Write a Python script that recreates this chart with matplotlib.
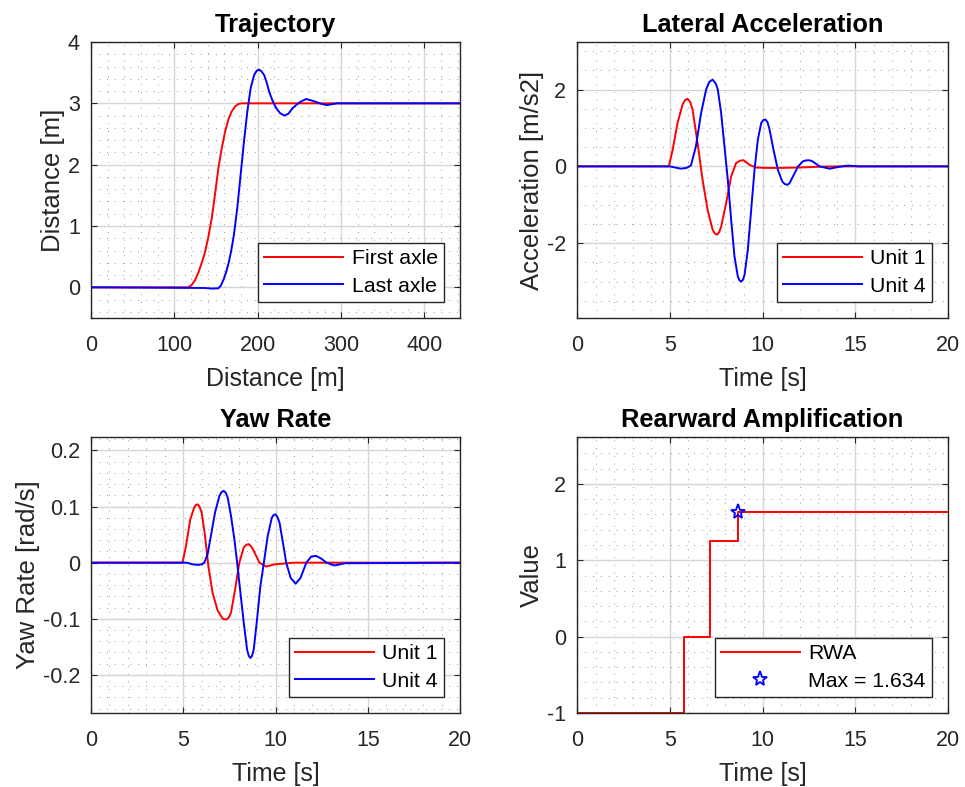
import numpy as np
import matplotlib.pyplot as plt
from matplotlib.ticker import AutoMinorLocator

plt.rcParams['font.family'] = ['Liberation Sans', 'DejaVu Sans']
plt.rcParams['axes.unicode_minus'] = False

# trajectory: lateral offset vs travelled distance
dist_first = [0, 117, 121, 125, 129, 133, 137, 141, 145, 149, 153, 157, 161, 165, 169, 173, 177, 181, 443]
traj_first = [0, 0, 0.04, 0.12, 0.245, 0.40, 0.58, 0.83, 1.13, 1.53, 1.95, 2.27, 2.54, 2.74, 2.87, 2.95, 2.99, 3.0, 3.0]
dist_last = [0, 135, 145, 153, 156, 159.4, 162.5, 165.5, 168.5, 171.5, 175.5, 179.6, 183.6, 187.6, 191.7,
             195.8, 198.8, 201.8, 204.8, 207.9, 210.9, 213.9, 218, 222, 227, 232, 237, 242, 247, 252,
             258.5, 266.5, 274.5, 283, 295, 443]
traj_last = [0, -0.01, -0.02, -0.016, 0.03, 0.136, 0.26, 0.41, 0.61, 0.85, 1.28, 1.83, 2.37, 2.86, 3.25,
             3.46, 3.53, 3.55, 3.52, 3.46, 3.34, 3.19, 3.04, 2.93, 2.84, 2.80, 2.83, 2.92, 2.98, 3.03,
             3.07, 3.04, 3.0, 2.97, 3.0, 3.0]

# lateral acceleration [m/s2]
t_acc1 = [0, 4.95, 5.16, 5.42, 5.69, 5.83, 5.96, 6.1, 6.23, 6.50, 6.77, 7.04, 7.31, 7.43, 7.55, 7.66,
          7.77, 8.04, 8.31, 8.58, 8.80, 8.99, 9.30, 9.66, 10.2, 11, 12, 13, 14, 20]
acc1 = [0, 0, 0.44, 1.13, 1.61, 1.73, 1.76, 1.68, 1.48, 0.61, -0.35, -1.13, -1.65, -1.75, -1.78, -1.72,
        -1.57, -0.96, -0.26, 0.09, 0.15, 0.16, 0.04, -0.03, -0.04, -0.04, -0.03, -0.01, 0, 0]
t_acc4 = [0, 5.0, 5.3, 5.6, 5.9, 6.14, 6.41, 6.69, 6.96, 7.13, 7.31, 7.49, 7.59, 7.77, 7.95, 8.13, 8.31,
          8.49, 8.67, 8.76, 8.85, 8.94, 9.03, 9.21, 9.39, 9.57, 9.75, 9.93, 10.05, 10.16, 10.27, 10.38,
          10.59, 10.83, 11.06, 11.2, 11.33, 11.46, 11.6, 11.92, 12.18, 12.34, 12.5, 12.66, 12.81, 13.08,
          13.62, 14.16, 14.6, 15.2, 20]
acc4 = [0, 0, -0.03, -0.06, -0.04, 0.02, 0.52, 1.39, 2.0, 2.2, 2.26, 2.15, 2.0, 1.39, 0.52, -0.35, -1.39,
        -2.35, -2.87, -2.97, -3.0, -2.96, -2.83, -2.17, -1.13, -0.09, 0.70, 1.13, 1.21, 1.22, 1.15, 0.96,
        0.44, -0.09, -0.39, -0.46, -0.48, -0.44, -0.30, 0, 0.13, 0.155, 0.16, 0.14, 0.09, 0,
        -0.06, -0.01, 0.02, 0, 0]

# yaw rate [rad/s]
t_yaw1 = [0, 4.96, 5.15, 5.38, 5.60, 5.69, 5.78, 5.88, 6.0, 6.18, 6.36, 6.59, 6.87, 7.14, 7.26, 7.37,
          7.48, 7.59, 7.81, 8.04, 8.28, 8.42, 8.55, 8.68, 8.82, 9.13, 9.49, 9.95, 11, 20]
yaw1 = [0, 0, 0.030, 0.077, 0.099, 0.103, 0.104, 0.100, 0.089, 0.048, -0.006, -0.054, -0.086, -0.100,
        -0.101, -0.101, -0.097, -0.089, -0.048, 0, 0.027, 0.032, 0.033, 0.029, 0.021, 0, -0.007,
        -0.003, 0, 0]
t_yaw4 = [0, 5.2, 5.5, 5.8, 6.0, 6.14, 6.32, 6.5, 6.72, 6.96, 7.08, 7.19, 7.30, 7.41, 7.59, 7.77, 7.92,
          8.10, 8.28, 8.46, 8.55, 8.64, 8.73, 8.82, 9.0, 9.18, 9.37, 9.58, 9.80, 9.90, 10.0, 10.11, 10.22,
          10.40, 10.58, 10.82, 11.09, 11.36, 11.67, 11.94, 12.21, 12.49, 12.76, 13.2, 13.77, 20]
yaw4 = [0, 0, -0.003, -0.004, -0.003, 0, 0.015, 0.048, 0.089, 0.119, 0.126, 0.128, 0.125, 0.116, 0.083,
        0.042, 0, -0.054, -0.107, -0.155, -0.166, -0.170, -0.166, -0.155, -0.101, -0.042, 0, 0.048,
        0.080, 0.085, 0.086, 0.081, 0.071, 0.036, 0, -0.027, -0.0375, -0.027, 0, 0.011, 0.012, 0.007,
        0, -0.005, -0.001, 0]

# rearward amplification (running value)
t_rwa = [0, 5.78, 7.19, 8.69, 20]
rwa = [-1, 0, 1.25, 1.634, 1.634]
rwa_max = max(rwa)
t_max = t_rwa[rwa.index(rwa_max)]

fig = plt.figure(figsize=(9.65, 7.87), dpi=100)
W, H = 965, 787
boxes = [(91, 42, 460, 318), (577, 42, 948, 318), (91, 437, 460, 713), (577, 437, 948, 713)]
axs = [fig.add_axes([l / W, 1 - b / H, (r - l) / W, (b - t) / H]) for l, t, r, b in boxes]

dark = '#262626'


def style(ax, title, xlabel, ylabel):
    ax.set_title(title, fontsize=18.3, fontweight='bold', color='black', pad=7)
    ax.set_xlabel(xlabel, fontsize=18, color=dark, labelpad=8)
    ax.set_ylabel(ylabel, fontsize=18.5, color=dark, labelpad=2)
    ax.xaxis.set_minor_locator(AutoMinorLocator(5))
    ax.tick_params(which='both', direction='in', top=True, right=True, colors=dark,
                   labelsize=15.5, width=0.8)
    ax.tick_params(which='major', length=4)
    ax.tick_params(axis='x', which='major', pad=12)
    ax.tick_params(axis='y', which='major', pad=8)
    ax.tick_params(which='minor', length=0)
    ax.grid(True, which='major', color='#d6d6d6', linewidth=1.0)
    ax.grid(True, which='minor', color='#9a9a9a', linewidth=0.7, linestyle=(0, (1, 7)))
    ax.set_axisbelow(True)
    for s in ax.spines.values():
        s.set_color(dark)
        s.set_linewidth(1.0)


def legend(ax):
    lg = ax.legend(loc='lower right', fontsize=15.3, handlelength=3.7, borderaxespad=0.75,
                   fancybox=False, framealpha=1, edgecolor=dark, borderpad=0.3,
                   labelspacing=0.4, handletextpad=0.4)
    lg.get_frame().set_linewidth(1.0)


ax = axs[0]
ax.plot(dist_first, traj_first, color='red', lw=1.4, label='First axle')
ax.plot(dist_last, traj_last, color='blue', lw=1.4, label='Last axle')
ax.set_xlim(0, 443)
ax.set_ylim(-0.5, 4)
ax.set_xticks([0, 100, 200, 300, 400])
ax.set_yticks([0, 1, 2, 3, 4])
ax.yaxis.set_minor_locator(AutoMinorLocator(5))
style(ax, 'Trajectory', 'Distance [m]', 'Distance [m]')
legend(ax)

ax = axs[1]
ax.plot(t_acc1, acc1, color='red', lw=1.4, label='Unit 1')
ax.plot(t_acc4, acc4, color='blue', lw=1.4, label='Unit 4')
ax.set_xlim(0, 20)
ax.set_ylim(-3.95, 3.24)
ax.set_xticks([0, 5, 10, 15, 20])
ax.set_yticks([-2, 0, 2])
ax.yaxis.set_minor_locator(AutoMinorLocator(4))
style(ax, 'Lateral Acceleration', 'Time [s]', 'Acceleration [m/s2]')
legend(ax)

ax = axs[2]
ax.plot(t_yaw1, yaw1, color='red', lw=1.4, label='Unit 1')
ax.plot(t_yaw4, yaw4, color='blue', lw=1.4, label='Unit 4')
ax.set_xlim(0, 20)
ax.set_ylim(-0.268, 0.224)
ax.set_xticks([0, 5, 10, 15, 20])
ax.set_yticks([-0.2, -0.1, 0, 0.1, 0.2])
ax.set_yticklabels(['-0.2', '-0.1', '0', '0.1', '0.2'])
ax.yaxis.set_minor_locator(AutoMinorLocator(5))
style(ax, 'Yaw Rate', 'Time [s]', 'Yaw Rate [rad/s]')
legend(ax)

ax = axs[3]
ax.plot(t_rwa, rwa, color='red', lw=1.4, drawstyle='steps-post', label='RWA')
ax.plot([t_max], [rwa_max], linestyle='none', marker='*', markersize=11, markerfacecolor='none',
        markeredgecolor='blue', markeredgewidth=1.3, label=f'Max = {rwa_max:.3f}')
ax.set_xlim(0, 20)
ax.set_ylim(-1, 1.6 * rwa_max)
ax.set_xticks([0, 5, 10, 15, 20])
ax.set_yticks([-1, 0, 1, 2])
ax.yaxis.set_minor_locator(AutoMinorLocator(5))
style(ax, 'Rearward Amplification', 'Time [s]', 'Value')
legend(ax)

fig.savefig('out.png', dpi=100)
